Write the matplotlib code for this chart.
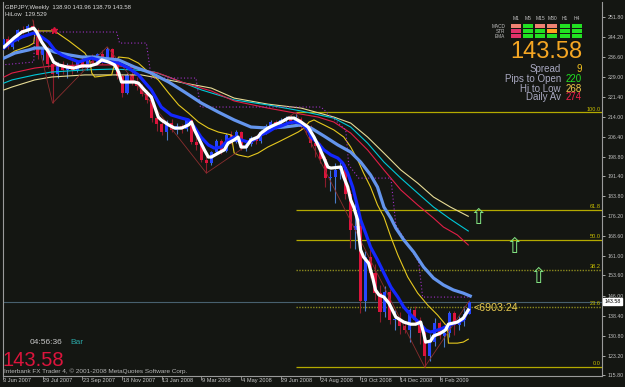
import matplotlib
matplotlib.use('Agg')
import matplotlib.pyplot as plt
import matplotlib.transforms as mtransforms
from matplotlib.patches import Rectangle
from matplotlib import font_manager
import numpy as np

plt.rcParams['font.family'] = ['Liberation Sans', 'DejaVu Sans']
_names = {f.name for f in font_manager.fontManager.ttflist}
NARROW = 'Liberation Sans Narrow' if 'Liberation Sans Narrow' in _names else 'Liberation Sans'
NSCALE = 1.0 if NARROW == 'Liberation Sans Narrow' else 0.82

# ---------------- data ----------------
opens = [241.2, 243.6, 240.4, 243.1, 246.9, 246.4, 248.4, 246.9, 237.2, 239.6,
         234.0, 230.0, 234.0, 231.6, 233.4, 231.6, 234.9, 232.6, 235.2, 234.4,
         237.6, 235.2, 239.8, 235.3, 229.3, 223.0, 229.6, 227.0, 225.6, 222.5,
         220.2, 213.4, 211.2, 208.1, 211.5, 209.0, 210.4, 209.2, 212.6, 204.5,
         203.0, 197.5, 196.4, 200.6, 204.8, 201.0, 207.0, 204.4, 208.0, 202.0,
         203.6, 205.8, 204.6, 208.2, 210.4, 212.0, 210.2, 212.6, 213.6, 212.2,
         213.0, 210.2, 210.0, 203.8, 202.7, 197.7, 190.5, 190.9, 193.5, 195.0,
         184.6, 171.0, 172.5, 144.0, 160.5, 154.6, 147.0, 139.6, 147.2, 136.6,
         137.0, 134.4, 133.0, 140.6, 136.8, 131.6, 123.2, 128.5, 135.5, 130.6,
         131.6, 139.4, 134.8, 136.7, 138.90]
highs = [244.2, 244.4, 243.6, 247.4, 248.2, 249.0, 250.7, 247.6, 241.0, 240.6,
         235.2, 234.6, 235.2, 234.2, 234.9, 235.4, 236.5, 236.0, 237.6, 238.3,
         239.3, 240.5, 240.2, 236.0, 230.0, 230.4, 231.2, 229.0, 226.4, 224.0,
         221.0, 215.0, 213.4, 212.6, 213.2, 211.6, 211.2, 213.4, 213.0, 206.6,
         204.8, 200.6, 201.0, 205.6, 205.4, 207.6, 208.4, 208.8, 208.6, 204.6,
         206.6, 207.0, 208.8, 211.0, 212.6, 212.8, 213.4, 214.2, 214.6, 215.6,
         214.0, 211.6, 210.6, 205.6, 204.0, 199.0, 193.6, 196.2, 197.4, 196.0,
         186.0, 181.0, 174.4, 163.0, 163.6, 158.0, 150.0, 149.8, 148.6, 140.6,
         139.8, 135.6, 141.2, 142.0, 138.0, 133.0, 131.4, 137.6, 136.4, 133.2,
         140.0, 140.2, 138.4, 142.2, 143.96]
lows = [240.6, 239.6, 239.8, 242.6, 245.3, 245.8, 246.3, 236.0, 235.4, 232.6,
        219.1, 228.6, 230.2, 228.8, 230.1, 230.8, 231.4, 231.8, 233.5, 233.8,
        234.0, 234.6, 234.3, 228.4, 221.4, 222.6, 226.0, 224.2, 221.8, 219.0,
        212.0, 208.6, 207.0, 205.2, 208.0, 207.4, 207.6, 208.6, 203.6, 201.4,
        196.6, 192.5, 195.4, 199.6, 199.8, 200.4, 203.6, 203.8, 201.2, 200.8,
        202.8, 203.6, 204.0, 207.2, 209.2, 209.4, 209.6, 211.0, 211.2, 211.0,
        209.0, 207.2, 202.6, 198.8, 196.2, 187.4, 185.6, 181.0, 190.2, 182.6,
        164.0, 163.8, 139.4, 140.0, 152.8, 144.2, 135.8, 137.8, 135.0, 133.0,
        131.4, 131.6, 128.4, 134.8, 127.6, 118.8, 121.0, 126.8, 129.6, 126.4,
        130.2, 131.0, 133.0, 134.6, 138.79]
closes = [243.6, 240.4, 243.1, 246.9, 246.4, 248.4, 246.9, 237.2, 239.6, 234.0,
          230.0, 234.0, 231.6, 233.4, 231.6, 234.9, 232.6, 235.2, 234.4, 237.6,
          235.2, 239.8, 235.3, 229.3, 223.0, 229.6, 227.0, 225.6, 222.5, 220.2,
          213.4, 211.2, 208.1, 211.5, 209.0, 210.4, 209.2, 212.6, 204.5, 203.0,
          197.5, 196.4, 200.6, 204.8, 201.0, 207.0, 204.4, 208.0, 202.0, 203.6,
          205.8, 204.6, 208.2, 210.4, 212.0, 210.2, 212.6, 213.6, 212.2, 213.0,
          210.2, 210.0, 203.8, 202.7, 197.7, 190.5, 190.9, 193.5, 195.0, 184.6,
          171.0, 172.5, 144.0, 160.5, 154.6, 147.0, 139.6, 147.2, 136.6, 137.0,
          134.4, 133.0, 140.6, 136.8, 131.6, 123.2, 128.5, 135.5, 130.6, 131.6,
          139.4, 134.8, 136.7, 138.9, 143.58]

white_x = [0.2, 2.2, 3.8, 6.2, 6.8, 7.8, 9.2, 10.2, 11.2, 12.9, 14.3, 15.9, 17.5, 18.9, 19.9,
           21.3, 22.5, 23.3, 23.9, 26.5, 27.3, 28.5, 29.9, 31.3, 31.9, 33.4, 34.6, 36.0, 37.4,
           38.0, 38.6, 39.6, 40.6, 41.4, 42.0, 43.4, 44.6, 45.4, 46.6, 47.4, 48.0, 49.0, 50.0,
           51.4, 52.0, 53.4, 54.7, 56.1, 57.5, 58.7, 60.1, 61.5, 62.7, 63.7, 64.7, 65.5, 66.1,
           68.1, 68.7, 69.5, 70.1, 70.7, 71.5, 71.7, 72.1, 72.7, 73.7, 74.5, 75.1, 75.8, 76.8,
           77.8, 79.2, 80.8, 82.2, 83.2, 84.2, 84.8, 85.2, 86.2, 86.8, 88.2, 89.2, 89.8, 91.6,
           92.8, 93.8]
white_y = [240.4, 243.8, 246.1, 247.6, 246.1, 242.3, 238.5, 234.7, 233.6, 232.8, 232.4, 233.2,
           233.2, 234.0, 235.5, 234.7, 233.6, 230.9, 227.1, 227.1, 226.7, 224.1, 221.4, 213.8,
           212.7, 210.8, 209.6, 209.6, 210.8, 211.9, 208.9, 205.1, 201.3, 198.6, 198.6, 200.1,
           201.3, 203.9, 205.1, 206.2, 202.4, 202.4, 205.1, 206.2, 207.7, 209.6, 210.8, 211.9,
           213.4, 213.4, 211.9, 210.0, 206.2, 202.4, 198.2, 194.8, 194.4, 194.8, 191.0, 187.2,
           182.3, 179.6, 174.7, 169.7, 163.3, 160.6, 158.3, 153.0, 148.1, 146.2, 145.4, 143.1,
           137.8, 135.9, 135.1, 135.1, 135.9, 131.7, 128.3, 128.7, 130.6, 131.7, 132.9, 135.1,
           135.9, 137.4, 140.5]

blue_x = [0.2, 1.8, 3.8, 6.2, 7.2, 9.2, 10.4, 11.8, 13.3, 15.3, 16.5, 17.9, 19.9, 23.3, 25.3,
          27.3, 29.9, 31.9, 33.9, 36.0, 37.4, 38.6, 39.9, 41.4, 42.6, 44.0, 45.4, 46.6, 48.0,
          49.4, 50.6, 52.0, 53.4, 54.7, 56.1, 57.5, 58.7, 60.1, 61.5, 62.1, 63.5, 64.7, 66.1,
          67.5, 68.5, 69.5, 70.5, 71.5, 72.1, 73.1, 74.1, 75.5, 76.8, 78.2, 79.6, 80.8, 82.2,
          83.8, 85.2, 86.2, 88.2, 89.6, 91.6, 92.8, 93.8]
blue_y = [240.0, 242.3, 244.2, 245.7, 245.0, 242.3, 239.3, 237.4, 236.2, 234.7, 235.5, 236.2,
          235.1, 234.3, 232.4, 229.8, 224.1, 217.6, 214.6, 213.4, 212.7, 210.0, 206.2, 203.2,
          202.0, 202.4, 205.1, 206.2, 205.1, 204.3, 205.1, 207.0, 208.1, 209.6, 210.4, 211.5,
          211.9, 211.5, 208.9, 206.2, 203.9, 201.3, 199.4, 198.2, 196.3, 192.5, 187.2, 179.6,
          174.7, 169.7, 164.4, 159.5, 154.5, 149.2, 145.4, 141.6, 138.6, 135.9, 132.9, 132.1,
          133.2, 134.4, 135.9, 136.7, 140.5]

lb_x = [0.2, 2.4, 5.2, 6.4, 8.4, 10.4, 13.3, 15.9, 18.5, 19.9, 23.3, 26.5, 29.9, 33.4, 36.6,
        40.0, 43.4, 46.6, 50.0, 53.4, 56.7, 60.1, 62.1, 64.7, 67.5, 70.1, 72.1, 74.1, 75.5,
        76.8, 78.2, 79.2, 80.8, 82.8, 84.8, 86.8, 88.8, 90.8, 92.8, 94.2]
lb_y = [236.2, 238.1, 239.3, 240.0, 240.0, 238.5, 237.4, 236.6, 236.6, 236.2, 235.5, 232.8,
        230.5, 227.1, 223.3, 219.1, 215.7, 212.7, 210.0, 209.6, 210.0, 210.8, 209.6, 206.6,
        203.2, 200.5, 196.7, 191.8, 187.2, 179.6, 175.4, 171.6, 167.1, 162.5, 156.8, 152.6,
        150.0, 148.1, 146.9, 145.8]

hilow_x = [0.2, 2.4, 5.2, 6.2, 6.4, 7.0, 10.4, 13.3, 16.5, 17.5, 17.9, 18.5, 21.9, 22.5, 23.3,
           25.3, 27.3, 29.3, 31.3, 33.4, 35.4, 37.4, 39.4, 41.4, 43.4, 46.0, 46.6, 47.4, 49.4,
           51.4, 53.4, 55.5, 57.5, 59.5, 60.7, 61.7, 62.7, 63.5, 64.7, 66.7, 68.7, 70.1, 71.5,
           72.7, 74.1, 75.5, 76.8, 78.2, 79.6, 81.6, 83.6, 85.6, 87.6, 88.8, 89.6, 89.8, 91.6,
           92.8, 93.8]
hilow_y = [236.2, 238.9, 240.8, 241.9, 245.3, 246.5, 246.5, 242.7, 238.1, 235.1, 230.5, 229.0,
           229.8, 233.9, 236.6, 236.2, 234.3, 230.9, 227.9, 222.9, 218.4, 215.3, 211.9, 209.6,
           208.1, 207.0, 200.1, 199.4, 198.6, 200.1, 202.4, 204.3, 206.2, 208.1, 209.6, 211.9,
           212.7, 211.9, 210.8, 208.9, 206.2, 202.4, 197.5, 192.5, 187.2, 180.4, 175.8, 168.2,
           161.4, 153.0, 146.9, 142.4, 138.6, 135.9, 134.0, 127.9, 127.9, 128.3, 129.4]

red_x = [0.2, 1.8, 6.4, 9.8, 16.5, 21.9, 26.5, 31.3, 36.6, 42.0, 46.6, 53.4, 60.1, 63.5, 66.7,
         70.1, 73.5, 76.8, 80.2, 83.6, 86.8, 88.8, 91.6, 93.8]
red_y = [229.0, 230.5, 232.4, 233.2, 233.6, 233.6, 232.4, 230.5, 226.7, 223.7, 219.9, 217.2,
         214.9, 213.8, 211.9, 207.7, 201.3, 193.7, 186.1, 180.4, 175.4, 172.0, 169.0, 165.2]

cyan_x = [0.2, 1.8, 6.4, 9.8, 16.5, 21.9, 26.5, 30.5, 33.4, 40.0, 46.6, 53.4, 60.1, 66.7, 70.1,
          73.5, 76.8, 80.2, 83.6, 86.8, 90.2, 93.8]
cyan_y = [226.7, 227.9, 229.8, 230.9, 231.7, 232.0, 231.7, 230.9, 229.0, 224.1, 220.3, 218.4,
          216.1, 213.4, 210.0, 203.9, 196.7, 190.6, 184.9, 179.6, 175.0, 170.5]

khaki_x = [0.2, 1.8, 6.4, 9.8, 16.5, 21.9, 27.9, 31.3, 36.6, 42.0, 46.6, 53.4, 60.1, 66.7, 70.1,
           73.5, 76.8, 80.2, 83.6, 86.8, 90.2, 93.8]
khaki_y = [224.1, 225.2, 227.9, 229.0, 229.8, 229.8, 229.8, 228.6, 226.7, 224.8, 221.0, 218.7,
           217.2, 213.8, 211.5, 206.2, 200.1, 193.7, 188.7, 183.4, 179.6, 176.1]

purple_x = [-0.2, 6.2, 6.4, 22.9, 23.5, 28.9, 29.9, 38.9, 39.8, 64.1, 69.1, 69.7, 71.7, 78.2,
            79.2, 83.8, 84.6, 93.8]
purple_y = [233.6, 234.7, 246.1, 246.1, 241.9, 241.9, 228.6, 228.6, 217.6, 217.6, 208.9, 195.6,
            190.6, 190.6, 172.8, 158.7, 145.4, 145.4]

zz_x = [6, 10, 21, 41, 59, 85, 94]
zz_y = [250.7, 219.1, 240.5, 192.5, 215.6, 118.8, 143.96]

fib_levels = [100.0, 61.8, 50.0, 38.2, 23.6, 0.0]
fib_high, fib_low, fib_start = 215.6, 118.8, 59

ytick_vals = [251.80, 244.20, 236.60, 229.00, 221.40, 214.00, 206.40, 198.80, 191.40, 183.80,
              176.20, 168.60, 161.00, 153.60, 146.00, 138.40, 130.80, 123.20, 115.80]
date_idx = [0, 8, 16, 24, 32, 40, 48, 56, 64, 72, 80, 88]
date_labels = ['3 Jun 2007', '29 Jul 2007', '23 Sep 2007', '18 Nov 2007', '13 Jan 2008',
               '9 Mar 2008', '4 May 2008', '29 Jun 2008', '24 Aug 2008', '19 Oct 2008',
               '14 Dec 2008', '8 Feb 2009']

tf_labels = ['M1', 'M5', 'M15', 'M30', 'H1', 'H4']
row_labels = ['MACD', 'STR', 'EMA']
cell_colors = [['#F08272', '#22E022', '#F08272', '#F08272', '#22E022', '#22E022'],
               ['#E0306A', '#22E022', '#22E022', '#FFA020', '#22E022', '#22E022'],
               ['#E0306A', '#22E022', '#22E022', '#22E022', '#22E022', '#22E022']]
info_labels = ['Spread', 'Pips to Open', 'Hi to Low', 'Daily Av']
info_values = ['9', '220', '268', '274']
info_colors = ['#F0C020', '#22E022', '#F0C848', '#F0204A']
last_price = 143.58
arrow_x = [95.8, 103.1, 107.9]
arrow_y = [175.4, 164.4, 153.0]

# ---------------- figure ----------------
BG = '#141612'
W, H = 625, 387
fig = plt.figure(figsize=(W / 100, H / 100), dpi=100, facecolor=BG)
ax = fig.add_axes([3 / W, 1 - 376 / H, 599 / W, 374 / H])
ax.set_facecolor(BG)
XMIN, XMAX = 0.40, 120.76
ax.set_xlim(XMIN, XMAX)
ax.set_ylim(115.42, 257.50)

# candles
xi = np.arange(len(opens))
o, h, l, c = map(np.array, (opens, highs, lows, closes))
up = c >= o
body_col = np.where(up, '#2646FF', '#DC143C')
wick_col = np.where(up, '#4A7CC8', '#8B1C2C')
ax.vlines(xi, l, h, colors=wick_col, lw=0.8, zorder=2)
ax.bar(xi, np.maximum(np.abs(c - o), 0.35), bottom=np.minimum(o, c), width=0.62,
       color=body_col, linewidth=0, zorder=3)

# price line
ax.axhline(last_price, color='#48606E', lw=0.8, zorder=1.5)

# fibonacci
for lev in fib_levels:
    price = fib_low + (fib_high - fib_low) * lev / 100.0
    dotted = lev in (38.2, 23.6)
    ax.hlines(price, fib_start, XMAX, colors='#8C8A1E' if dotted else '#B4AA00',
              linestyles=(0, (1, 1)) if dotted else '-', lw=1.0 if dotted else 0.9, zorder=1.6)
    ax.text(XMAX - 0.3, price + 0.3, f'{lev:.1f}', ha='right', va='bottom',
            fontsize=4.9 * NSCALE, family=NARROW, color='#C8BE00', zorder=10)

# indicator lines
ax.plot(khaki_x, khaki_y, color='#E8DC96', lw=0.8, zorder=5)
ax.plot(cyan_x, cyan_y, color='#00C8D8', lw=0.8, zorder=5)
ax.plot(red_x, red_y, color='#E01E46', lw=0.8, zorder=5)
ax.plot(hilow_x, hilow_y, color='#E6C81E', lw=0.8, zorder=6)
ax.plot(purple_x, purple_y, color='#A030C8', lw=0.8, ls=(0, (1, 2)), zorder=6)
ax.plot(zz_x, zz_y, color='#8A2E2E', lw=0.6, zorder=6)
ax.plot(lb_x, lb_y, color='#6495ED', lw=2.3, zorder=7)
ax.plot(blue_x, blue_y, color='#1428FF', lw=2.3, zorder=8)
ax.plot(white_x, white_y, color='white', lw=2.3, zorder=9)
ax.plot([10.25], [246.9], marker='*', ms=5, color='#DC143C', zorder=9)

# arrows
for ax_, ay_ in zip(arrow_x, arrow_y):
    ax.text(ax_, ay_, '\u21e7', ha='center', va='center', fontsize=15, color='#80E080',
            family='DejaVu Sans', zorder=10, clip_on=False)

ax.text(94.9, 141.3, '<6903:24', ha='left', va='center', fontsize=7.7, color='#E6C850', zorder=10)

# axes styling
for s in ax.spines.values():
    s.set_color('#9A9A9A')
    s.set_linewidth(0.8)
ax.spines['top'].set_visible(False)
ax.yaxis.tick_right()
ax.set_yticks(ytick_vals)
ax.set_yticklabels([f'{v:.2f}' for v in ytick_vals], family=NARROW)
ax.tick_params(axis='y', colors='#C0C0C0', labelsize=4.6 * NSCALE, length=2.5, width=0.6, pad=1.5)
ax.set_xticks(date_idx)
ax.set_xticklabels([''] * len(date_idx))
ax.tick_params(axis='x', colors='#9A9A9A', length=3, width=0.6)
tb = mtransforms.blended_transform_factory(ax.transData, ax.transAxes)
for d, lab in zip(date_idx, date_labels):
    ax.text(d + 0.1, -0.012, lab, transform=tb, ha='left', va='center',
            fontsize=5.0 * NSCALE, family=NARROW, color='#C8C8C8', clip_on=False)

# price box on axis
tr = mtransforms.blended_transform_factory(ax.transAxes, ax.transData)
ax.text(1.004, last_price, f'{last_price:.2f}', transform=tr, ha='left', va='center',
        fontsize=4.6 * NSCALE, family=NARROW, color='black', zorder=11,
        bbox=dict(boxstyle='square,pad=0.2', fc='white', ec='white'))


def fx(px):
    return px / W


def fy(py):
    return 1 - py / H


# header texts
fig.text(fx(5), fy(7), 'GBPJPY,Weekly  138.90 143.96 138.79 143.58', fontsize=5.3 * NSCALE,
         family=NARROW, color='#D8D8D8', va='center', ha='left')
fig.text(fx(5), fy(14), 'HiLow  129.529', fontsize=5.3 * NSCALE, family=NARROW,
         color='#D8D8D8', va='center', ha='left')

# signal table
col_cx = [516, 528, 540, 552, 565, 577]
row_top = [24.5, 29.5, 34.3]
for j, lab in enumerate(tf_labels):
    fig.text(fx(col_cx[j]), fy(19), lab, fontsize=3.6, color='#C0C0C0', ha='center', va='center')
for r, lab in enumerate(row_labels):
    fig.text(fx(505), fy(row_top[r] + 1.8), lab, fontsize=3.4, color='#C0C0C0', ha='right',
             va='center')
    for j in range(6):
        fig.add_artist(Rectangle((fx(col_cx[j] - 5), fy(row_top[r] + 3.5)), 10 / W, 3.5 / H,
                                 transform=fig.transFigure, color=cell_colors[r][j], lw=0))

fig.text(fx(546.5), fy(52), f'{last_price:.2f}', fontsize=17, color='#F5A623', ha='center',
         va='center')
info_y = [69.5, 79, 88.5, 97.5]
for k in range(4):
    fig.text(fx(561), fy(info_y[k]), info_labels[k], fontsize=7, color='#A8A8C0', ha='right',
             va='center')
    fig.text(fx(582), fy(info_y[k]), info_values[k], fontsize=7, color=info_colors[k],
             ha='right', va='center')

# bottom-left texts
fig.text(fx(30), fy(343), '04:56:36', fontsize=6, color='#C8C8C8', ha='left', va='center')
fig.text(fx(70), fy(343), 'Bar', fontsize=6, color='#2AA5A5', ha='left', va='center')
fig.text(fx(3), fy(361), f'{last_price:.2f}', fontsize=14.5, color='#DC143C', ha='left',
         va='center')
fig.text(fx(4), fy(371), 'Interbank FX Trader 4, \u00a9 2001-2008 MetaQuotes Software Corp.',
         fontsize=4.6, color='#B8B8B8', ha='left', va='center')

fig.savefig('out.png', dpi=100, facecolor=BG)
